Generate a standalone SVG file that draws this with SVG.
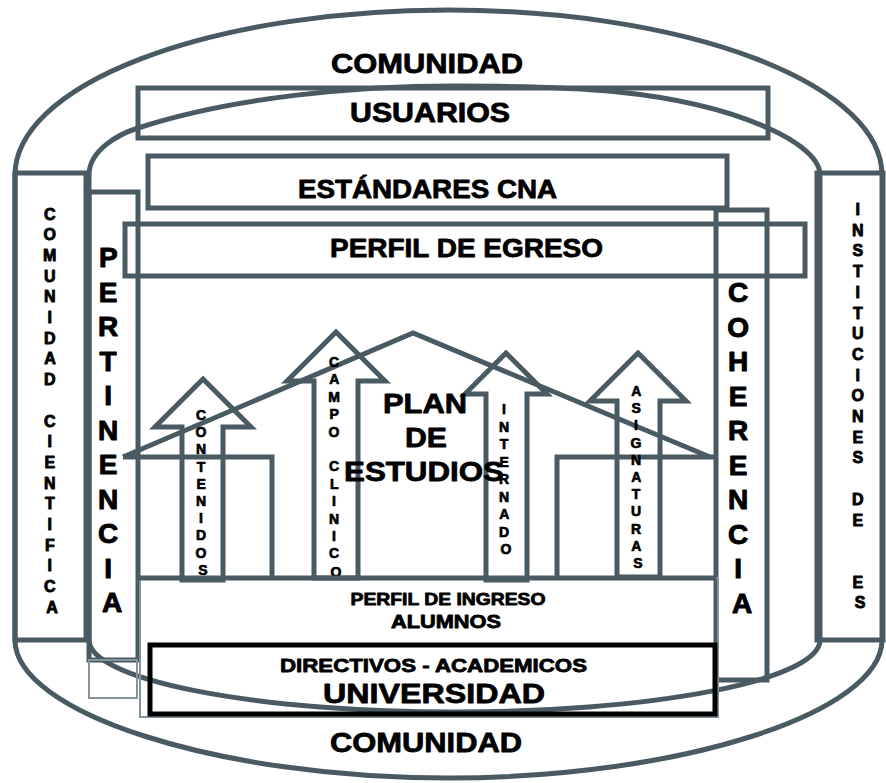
<svg xmlns="http://www.w3.org/2000/svg" width="886" height="783" viewBox="0 0 886 783">
<style>
.g{fill:none;stroke:#4a5a62;stroke-width:5;stroke-linejoin:miter}
.thin{fill:none;stroke:#84949c;stroke-width:2}
.blk{fill:none;stroke:#000;stroke-width:5}
text{font-family:"Liberation Sans",Arial,Helvetica,sans-serif;font-weight:bold;fill:#000;text-anchor:middle;stroke:#000;stroke-width:0.8px;stroke-linejoin:round}
.v16{font-size:16px;stroke-width:0.9px}
.v28{font-size:28px;stroke-width:1px}
.v14{font-size:14px;stroke-width:0.7px}
</style>
<rect width="886" height="783" fill="#fff"/>
<g id="outer-ring"><path class="g" d="M15,640 L15,175 A433.5,165 0 0 1 882,175 L882,640 C882,712 682,778 448.5,778 C215,778 15,712 15,640 Z"/></g>
<g id="inner-ring"><path class="g" d="M89,640 L89,175 C89,150 119,134 138,128 C233,97 355,86 455,86 C555,86 679,87 770,129 C788,137 820,155 820,175 L820,640 A365.5,72 0 0 1 89,640 Z"/></g>
<g id="col-comunidad-cientifica">
<rect class="g" x="15" y="173" width="71" height="467"/>
<text class="v16"><tspan x="52" y="219.5">C</tspan>
<tspan x="52" y="240.2">O</tspan>
<tspan x="52" y="260.9">M</tspan>
<tspan x="52" y="281.6">U</tspan>
<tspan x="52" y="302.3">N</tspan>
<tspan x="52" y="323">I</tspan>
<tspan x="52" y="343.7">D</tspan>
<tspan x="52" y="364.4">A</tspan>
<tspan x="52" y="385.1">D</tspan>
<tspan x="52" y="426.5">C</tspan>
<tspan x="52" y="447.2">I</tspan>
<tspan x="52" y="467.9">E</tspan>
<tspan x="52" y="488.6">N</tspan>
<tspan x="52" y="509.3">T</tspan>
<tspan x="52" y="530">I</tspan>
<tspan x="52" y="550.7">F</tspan>
<tspan x="52" y="571.4">I</tspan>
<tspan x="52" y="592.1">C</tspan>
<tspan x="52" y="612.8">A</tspan></text>
</g>
<g id="col-instituciones">
<rect class="g" x="817" y="173" width="66" height="467"/>
<text class="v16"><tspan x="860" y="215">I</tspan>
<tspan x="860" y="235.7">N</tspan>
<tspan x="860" y="256.4">S</tspan>
<tspan x="860" y="277.1">T</tspan>
<tspan x="860" y="297.8">I</tspan>
<tspan x="860" y="318.5">T</tspan>
<tspan x="860" y="339.2">U</tspan>
<tspan x="860" y="359.9">C</tspan>
<tspan x="860" y="380.6">I</tspan>
<tspan x="860" y="401.3">O</tspan>
<tspan x="860" y="422">N</tspan>
<tspan x="860" y="442.7">E</tspan>
<tspan x="860" y="463.4">S</tspan>
<tspan x="860" y="504.8">D</tspan>
<tspan x="860" y="525.5">E</tspan>
<tspan x="860" y="587.6">E</tspan>
<tspan x="860" y="608.3">S</tspan></text>
</g>
<g id="box-usuarios"><rect class="g" x="138" y="88" width="630" height="50"/>
<text x="430" y="122" font-size="27" textLength="160" lengthAdjust="spacingAndGlyphs">USUARIOS</text></g>
<g id="box-estandares"><rect class="g" x="148" y="156" width="579" height="52"/>
<text x="427.5" y="198" font-size="26" textLength="259" lengthAdjust="spacingAndGlyphs">ESTÁNDARES CNA</text></g>
<g id="plan-estudios">
<path class="g" d="M123,457 L413,333 L710,457"/>
<path class="g" d="M123,457 L272,457 L272,578"/>
<path class="g" d="M716,457 L557,457 L557,578"/>
</g>
<g id="arrow-contenidos"><path class="g" d="M182,580 L182,427 L155,427 L203,379 L251,427 L223,427 L223,580 Z"/></g>
<g id="arrow-campo-clinico"><path class="g" d="M314,578 L314,381 L287,381 L336,332 L385,381 L358,381 L358,578 Z"/></g>
<g id="arrow-internado"><path class="g" d="M486,580 L486,394 L465,394 L506,353 L547,394 L527,394 L527,580 Z"/></g>
<g id="arrow-asignaturas"><path class="g" d="M617,577 L617,401 L590,401 L638,353 L686,401 L660,401 L660,577 Z"/></g>
<g id="col-pertinencia">
<rect class="g" x="89" y="192" width="49" height="468"/>
<rect class="thin" x="89" y="660" width="48" height="38"/>
<text class="v28"><tspan x="112" y="267">P</tspan>
<tspan x="112" y="301.5">E</tspan>
<tspan x="112" y="336">R</tspan>
<tspan x="112" y="370.5">T</tspan>
<tspan x="112" y="405">I</tspan>
<tspan x="112" y="439.5">N</tspan>
<tspan x="112" y="474">E</tspan>
<tspan x="112" y="508.5">N</tspan>
<tspan x="112" y="543">C</tspan>
<tspan x="112" y="577.5">I</tspan>
<tspan x="112" y="612">A</tspan></text>
</g>
<g id="col-coherencia">
<rect class="g" x="716" y="210" width="51" height="470"/>
<text class="v28"><tspan x="742" y="302">C</tspan>
<tspan x="742" y="336.6">O</tspan>
<tspan x="742" y="371.1">H</tspan>
<tspan x="742" y="405.7">E</tspan>
<tspan x="742" y="440.2">R</tspan>
<tspan x="742" y="474.8">E</tspan>
<tspan x="742" y="509.3">N</tspan>
<tspan x="742" y="543.9">C</tspan>
<tspan x="742" y="578.4">I</tspan>
<tspan x="742" y="613">A</tspan></text>
</g>
<g id="box-egreso"><rect class="g" x="125" y="224" width="680" height="52"/>
<text x="466.5" y="257" font-size="26" textLength="273" lengthAdjust="spacingAndGlyphs">PERFIL DE EGRESO</text></g>
<g id="arrow-labels">
<text class="v14"><tspan x="203" y="420">C</tspan>
<tspan x="203" y="437.2">O</tspan>
<tspan x="203" y="454.4">N</tspan>
<tspan x="203" y="471.6">T</tspan>
<tspan x="203" y="488.8">E</tspan>
<tspan x="203" y="506">N</tspan>
<tspan x="203" y="523.2">I</tspan>
<tspan x="203" y="540.4">D</tspan>
<tspan x="203" y="557.6">O</tspan>
<tspan x="203" y="574.8">S</tspan></text>
<text class="v14"><tspan x="336" y="367">C</tspan>
<tspan x="336" y="384.4">A</tspan>
<tspan x="336" y="401.8">M</tspan>
<tspan x="336" y="419.2">P</tspan>
<tspan x="336" y="436.6">O</tspan>
<tspan x="336" y="471.4">C</tspan>
<tspan x="336" y="488.8">L</tspan>
<tspan x="336" y="506.2">I</tspan>
<tspan x="336" y="523.6">N</tspan>
<tspan x="336" y="541">I</tspan>
<tspan x="336" y="558.4">C</tspan>
<tspan x="336" y="577">O</tspan></text>
<text class="v14"><tspan x="506" y="414">I</tspan>
<tspan x="506" y="431.5">N</tspan>
<tspan x="506" y="449">T</tspan>
<tspan x="506" y="466.5">E</tspan>
<tspan x="506" y="484">R</tspan>
<tspan x="506" y="501.5">N</tspan>
<tspan x="506" y="519">A</tspan>
<tspan x="506" y="536.5">D</tspan>
<tspan x="506" y="554">O</tspan></text>
<text class="v14"><tspan x="638" y="396">A</tspan>
<tspan x="638" y="413.2">S</tspan>
<tspan x="638" y="430.4">I</tspan>
<tspan x="638" y="447.6">G</tspan>
<tspan x="638" y="464.8">N</tspan>
<tspan x="638" y="482">A</tspan>
<tspan x="638" y="499.2">T</tspan>
<tspan x="638" y="516.4">U</tspan>
<tspan x="638" y="533.6">R</tspan>
<tspan x="638" y="550.8">A</tspan>
<tspan x="638" y="568">S</tspan></text>
</g>
<g id="label-plan">
<text x="425" y="413" font-size="28" textLength="84" lengthAdjust="spacingAndGlyphs">PLAN</text>
<text x="426" y="447" font-size="28" textLength="42" lengthAdjust="spacingAndGlyphs">DE</text>
<text x="424" y="481" font-size="28" textLength="160" lengthAdjust="spacingAndGlyphs">ESTUDIOS</text>
</g>
<g id="box-alumnos">
<rect class="thin" x="140" y="578" width="578" height="139"/>
<path class="g" d="M138,578 L716,578"/>
<text x="448" y="605" font-size="17" textLength="195" lengthAdjust="spacingAndGlyphs">PERFIL DE INGRESO</text>
<text x="446" y="628" font-size="18" textLength="110" lengthAdjust="spacingAndGlyphs">ALUMNOS</text>
</g>
<g id="box-universidad">
<rect class="blk" x="150" y="645" width="565" height="69"/>
<text x="433.5" y="672" font-size="19" textLength="307" lengthAdjust="spacingAndGlyphs">DIRECTIVOS - ACADEMICOS</text>
<text x="434" y="703" font-size="28" textLength="222" lengthAdjust="spacingAndGlyphs">UNIVERSIDAD</text>
</g>
<g id="label-comunidad">
<text x="427" y="73" font-size="28" textLength="192" lengthAdjust="spacingAndGlyphs">COMUNIDAD</text>
<text x="426" y="752" font-size="28" textLength="192" lengthAdjust="spacingAndGlyphs">COMUNIDAD</text>
</g>
<g id="connectors"></g>
</svg>
